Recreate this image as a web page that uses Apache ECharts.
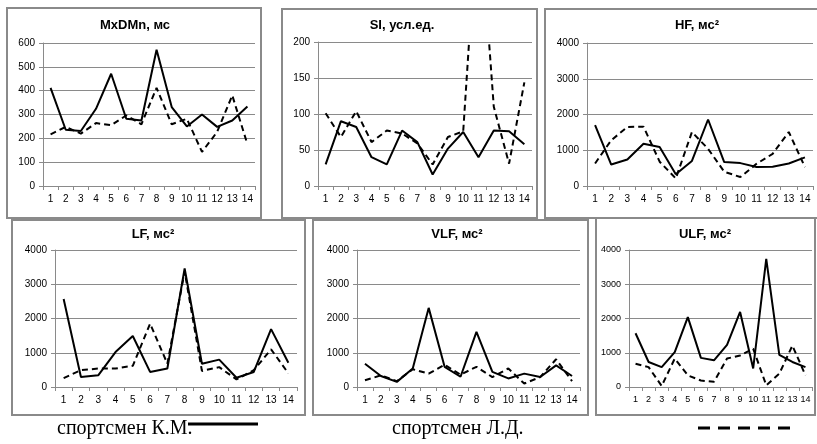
<!DOCTYPE html>
<html>
<head>
<meta charset="utf-8">
<script src="https://cdn.jsdelivr.net/npm/echarts@6/dist/echarts.min.js"></script>
<style>
  html, body { margin: 0; padding: 0; background: #fff; }
  #chart { width: 817px; height: 444px; }
</style>
</head>
<body>
<div id="chart"></div>
<script>
// categories (test number)
var cats = ['1', '2', '3', '4', '5', '6', '7', '8', '9', '10', '11', '12', '13', '14'];

// спортсмен К.М. (solid) / спортсмен Л.Д. (dashed)
var mxdmnKM = [412, 236, 231, 324, 471, 282, 275, 572, 331, 250, 300, 248, 275, 334];
var mxdmnLD = [217, 248, 220, 264, 255, 296, 259, 412, 259, 282, 143, 227, 380, 175];

var siKM = [30, 90, 82, 40, 30, 77, 61, 16, 52, 75, 40, 77, 76, 58];
var siLD = [101, 68, 104, 61, 77, 73, 59, 30, 68, 76, 400, 110, 31, 144];

var hfKM = [1700, 600, 740, 1180, 1090, 330, 700, 1860, 670, 640, 530, 540, 630, 800];
var hfLD = [630, 1280, 1650, 1660, 680, 210, 1510, 1040, 400, 250, 620, 900, 1510, 530];

var lfKM = [2570, 290, 340, 1020, 1490, 440, 540, 3460, 680, 800, 270, 440, 1690, 710];
var lfLD = [260, 490, 540, 540, 620, 1850, 680, 3370, 470, 580, 220, 490, 1100, 400];

var vlfKM = [680, 320, 150, 540, 2310, 590, 300, 1610, 440, 250, 390, 290, 630, 320];
var vlfLD = [195, 340, 170, 520, 390, 650, 360, 590, 290, 540, 100, 290, 810, 170];

var ulfKM = [1570, 730, 580, 1020, 2040, 850, 780, 1230, 2190, 540, 3740, 940, 730, 580];
var ulfLD = [680, 580, 30, 830, 340, 190, 150, 830, 920, 1120, 50, 390, 1210, 340];

// y-axis scales
var yMax = [600, 200, 4000, 4000, 4000, 4000];
var yStep = [100, 50, 1000, 1000, 1000, 1000];

var titles = ['MxDMn, мс', 'SI, усл.ед.', 'HF, мс²', 'LF, мс²', 'VLF, мс²', 'ULF, мс²'];
var seriesKM = [mxdmnKM, siKM, hfKM, lfKM, vlfKM, ulfKM];
var seriesLD = [mxdmnLD, siLD, hfLD, lfLD, vlfLD, ulfLD];

// layout of the six panels (pixels)
var grids = [
    { left: 43, top: 43, width: 212, height: 143 },
    { left: 318, top: 42, width: 214, height: 144 },
    { left: 587, top: 43, width: 226, height: 143 },
    { left: 55, top: 250, width: 242, height: 137 },
    { left: 357, top: 250, width: 223, height: 137 },
    { left: 629, top: 250, width: 183, height: 137 }
];
var boxes = [
    [7, 8, 254, 210], [282, 9, 255, 209], [545, 9, 280, 209],
    [12, 220, 293, 195], [313, 220, 275, 195], [596, 218, 219, 197]
];
var titlePos = [[135, 25], [402, 25], [697, 25], [153, 234], [457, 234], [705, 234]];

var labelFont = "'Liberation Sans Narrow', 'Liberation Sans', sans-serif";
var gray = '#8a8a8a';

var myChart = echarts.init(document.getElementById('chart'));

var xAxes = [], yAxes = [], series = [], graphics = [];

boxes.forEach(function (b) {
    graphics.push({
        type: 'rect', z: -10, silent: true,
        shape: { x: b[0], y: b[1], width: b[2], height: b[3] },
        style: { fill: '#fff', stroke: gray, lineWidth: 2 }
    });
});

titles.forEach(function (t, i) {
    var fs = i === 5 ? 9 : 10;
    graphics.push({
        type: 'text', z: 10,
        x: titlePos[i][0], y: titlePos[i][1],
        style: {
            text: t, fill: '#000', align: 'center', verticalAlign: 'middle',
            font: 'bold 13px ' + labelFont
        }
    });
    xAxes.push({
        gridIndex: i, type: 'category', data: cats, boundaryGap: true,
        axisLine: { lineStyle: { color: gray, width: 1 } },
        axisTick: { show: true, length: 4, lineStyle: { color: gray } },
        axisLabel: { color: '#000', fontSize: fs, fontFamily: labelFont, margin: 8, interval: 0 },
        splitLine: { show: false }
    });
    yAxes.push({
        gridIndex: i, type: 'value', min: 0, max: yMax[i], interval: yStep[i],
        axisLine: { show: true, lineStyle: { color: gray, width: 1 } },
        axisTick: { show: true, length: 4, lineStyle: { color: gray } },
        axisLabel: {
            color: '#000', fontSize: fs, fontFamily: labelFont, margin: 8,
            formatter: function (v) { return String(v); }
        },
        splitLine: { show: true, lineStyle: { color: gray, width: 1 } }
    });
    series.push({
        name: 'спортсмен Л.Д.', type: 'line', xAxisIndex: i, yAxisIndex: i,
        data: seriesLD[i], symbol: 'none', clip: true,
        lineStyle: { color: '#000', width: 2, type: [6, 4] }
    });
    series.push({
        name: 'спортсмен К.М.', type: 'line', xAxisIndex: i, yAxisIndex: i,
        data: seriesKM[i], symbol: 'none', clip: true,
        lineStyle: { color: '#000', width: 2 }
    });
});

// legend below the panels
graphics.push(
    {
        type: 'text', x: 57, y: 429,
        style: { text: 'спортсмен К.М.', fill: '#000', verticalAlign: 'middle', font: "20px 'Liberation Serif', serif" }
    },
    {
        type: 'line', shape: { x1: 188, y1: 424, x2: 258, y2: 424 },
        style: { stroke: '#000', lineWidth: 3 }
    },
    {
        type: 'text', x: 392, y: 429,
        style: { text: 'спортсмен Л.Д.', fill: '#000', verticalAlign: 'middle', font: "20px 'Liberation Serif', serif" }
    },
    {
        type: 'line', shape: { x1: 698, y1: 428, x2: 792, y2: 428 },
        style: { stroke: '#000', lineWidth: 3, lineDash: [12, 8] }
    }
);

var option = {
    animation: false,
    backgroundColor: '#fff',
    grid: grids,
    xAxis: xAxes,
    yAxis: yAxes,
    series: series,
    graphic: { elements: graphics }
};

myChart.setOption(option);
window.addEventListener('resize', function () {
    myChart.resize();
});
</script>
</body>
</html>
